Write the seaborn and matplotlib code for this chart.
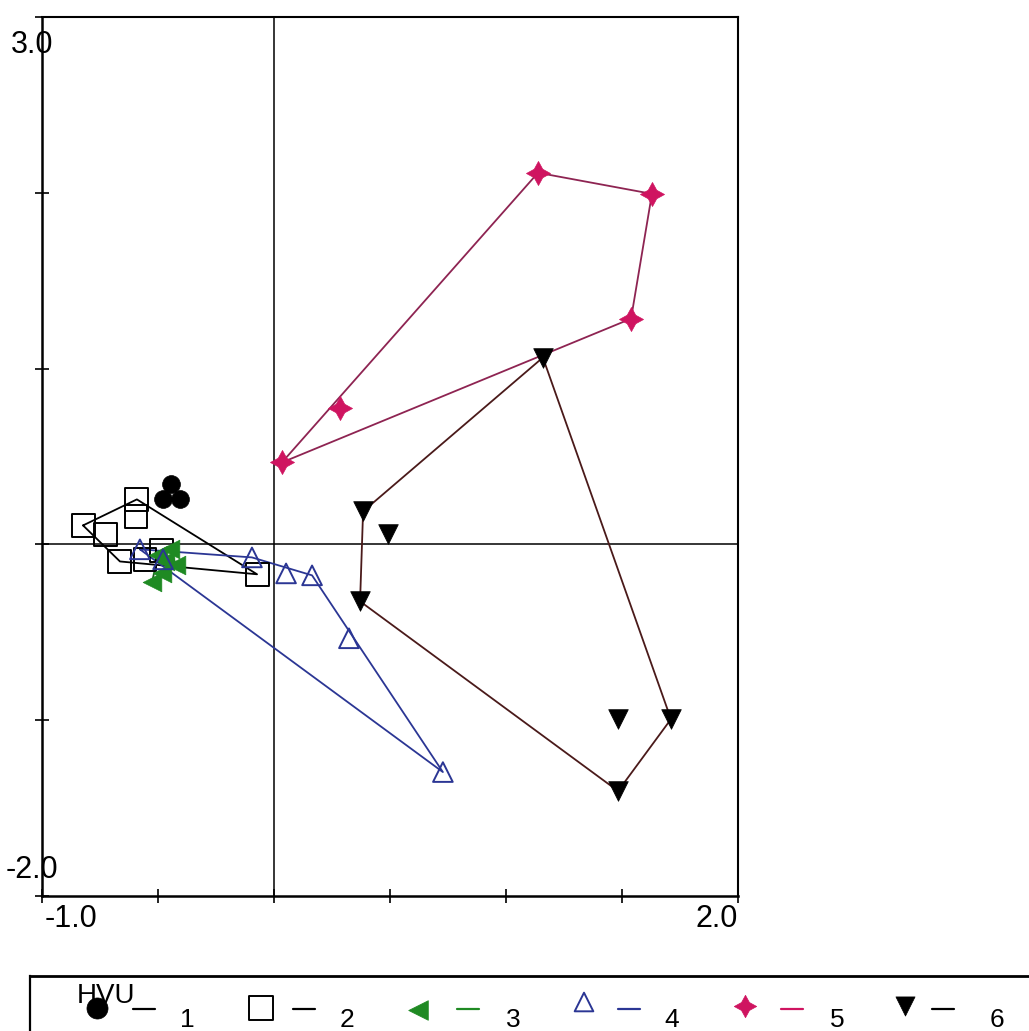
import numpy as np
import pandas as pd
import matplotlib
matplotlib.use("Agg")
import matplotlib.pyplot as plt
import seaborn as sns

# Sample scores on ordination axes 1 and 2, per HVU group
hvu1_x = [-0.444, -0.478, -0.405]
hvu1_y = [0.341, 0.261, 0.261]
hvu2_x = [-0.591, -0.823, -0.728, -0.595, -0.664, -0.073, -0.483, -0.556]
hvu2_y = [0.256, 0.108, 0.057, 0.159, -0.097, -0.170, -0.034, -0.085]
hvu3_x = [-0.526, -0.483, -0.422, -0.500, -0.448, -0.470]
hvu3_y = [-0.216, -0.165, -0.119, -0.063, -0.028, -0.097]
hvu4_x = [-0.578, -0.478, -0.095, 0.052, 0.164, 0.323, 0.728]
hvu4_y = [-0.028, -0.085, -0.074, -0.165, -0.176, -0.534, -1.295]
hvu5_x = [1.138, 1.629, 1.539, 0.284, 0.034]
hvu5_y = [2.114, 1.994, 1.284, 0.778, 0.466]
hvu6_x = [1.159, 0.384, 0.491, 0.371, 1.483, 1.711, 1.483]
hvu6_y = [1.063, 0.188, 0.057, -0.324, -0.994, -0.994, -1.403]

group_labels = ["1", "2", "3", "4", "5", "6"]
x_ticks = [-1.0, -0.5, 0.0, 0.5, 1.0, 1.5, 2.0]
y_ticks = [-2, -1, 0, 1, 2, 3]
x_end_labels = ["-1.0", "2.0"]
y_end_labels = ["-2.0", "3.0"]

frames = []
for lab, xs, ys in zip(group_labels,
                       [hvu1_x, hvu2_x, hvu3_x, hvu4_x, hvu5_x, hvu6_x],
                       [hvu1_y, hvu2_y, hvu3_y, hvu4_y, hvu5_y, hvu6_y]):
    frames.append(pd.DataFrame({"ax1": xs, "ax2": ys, "HVU": lab}))
scores = pd.concat(frames, ignore_index=True)

GREEN = "#1f8a23"
NAVY = "#2b3694"
PINK = "#cf1460"
PINK_LINE = "#8e2452"
BROWN = "#4a1a1a"

# marker style per group: marker, size (pt^2), face, edge, edge width, hull colour
styles = {
    "1": dict(marker="o", s=165, fc="black", ec="black", lw=0.5, line="black"),
    "2": dict(marker="s", s=272, fc="none", ec="black", lw=1.4, line="black"),
    "3": dict(marker="<", s=180, fc=GREEN, ec=GREEN, lw=0.5, line="#1d5e1d"),
    "4": dict(marker="^", s=200, fc="none", ec=NAVY, lw=1.4, line=NAVY),
    "5": dict(marker=(4, 1, 0), s=300, fc=PINK, ec=PINK, lw=0.5, line=PINK_LINE),
    "6": dict(marker="v", s=200, fc="black", ec="black", lw=0.5, line=BROWN),
}


def convex_hull(xs, ys):
    pts = sorted(set(zip(xs, ys)))
    if len(pts) < 3:
        return pts

    def cross(o, a, b):
        return (a[0] - o[0]) * (b[1] - o[1]) - (a[1] - o[1]) * (b[0] - o[0])

    lower, upper = [], []
    for p in pts:
        while len(lower) >= 2 and cross(lower[-2], lower[-1], p) <= 0:
            lower.pop()
        lower.append(p)
    for p in reversed(pts):
        while len(upper) >= 2 and cross(upper[-2], upper[-1], p) <= 0:
            upper.pop()
        upper.append(p)
    h = lower[:-1] + upper[:-1]
    return h + [h[0]]


sns.set_style("white")
plt.rcParams["font.family"] = ["Liberation Sans", "DejaVu Sans"]
plt.rcParams["text.color"] = "black"
plt.rcParams["xtick.color"] = "black"
plt.rcParams["ytick.color"] = "black"

W, H = 1029, 1031
fig = plt.figure(figsize=(W / 100, H / 100), dpi=100)
ax = fig.add_axes([42 / W, 1 - 896 / H, 696 / W, 879 / H])

ax.axhline(0, color="black", lw=1.1, zorder=1)
ax.axvline(0, color="black", lw=1.1, zorder=1)

for lab in group_labels:
    sub = scores[scores["HVU"] == lab]
    st = styles[lab]
    hull = convex_hull(sub["ax1"].tolist(), sub["ax2"].tolist())
    hx = [p[0] for p in hull]
    hy = [p[1] for p in hull]
    sns.lineplot(x=hx, y=hy, sort=False, estimator=None, color=st["line"],
                 linewidth=1.3, ax=ax, zorder=3, legend=False)
    sns.scatterplot(data=sub, x="ax1", y="ax2", ax=ax, marker=st["marker"],
                    s=st["s"], color=st["ec"], facecolor=st["fc"],
                    edgecolor=st["ec"], linewidth=st["lw"], zorder=4,
                    legend=False)

ax.set_xlim(-1.0, 2.0)
ax.set_ylim(-2.0, 3.0)
ax.set_xticks(x_ticks)
ax.set_yticks(y_ticks)
ax.tick_params(axis="both", direction="inout", length=10, width=1.2,
               colors="black", bottom=True, left=True, top=False, right=False,
               labelbottom=False, labelleft=False)
ax.set_xlabel("")
ax.set_ylabel("")
for side in ["left", "bottom"]:
    ax.spines[side].set_linewidth(1.8)
for side in ["top", "right"]:
    ax.spines[side].set_linewidth(1.5)
for sp in ax.spines.values():
    sp.set_color("black")

# axis end labels
fs = 22
ax.annotate(x_end_labels[0], xy=(x_ticks[0], y_ticks[0]), xycoords="data",
            xytext=(3, -8), textcoords="offset pixels", ha="left", va="top",
            fontsize=fs, color="black")
ax.annotate(x_end_labels[1], xy=(x_ticks[-1], y_ticks[0]), xycoords="data",
            xytext=(0, -8), textcoords="offset pixels", ha="right", va="top",
            fontsize=fs, color="black")
ax.annotate(y_end_labels[0], xy=(x_ticks[0], y_ticks[0]), xycoords="data",
            xytext=(-10, 26), textcoords="offset pixels", ha="center",
            va="center", fontsize=fs, color="black")
ax.annotate(y_end_labels[1], xy=(x_ticks[0], y_ticks[-1]), xycoords="data",
            xytext=(-10, -28), textcoords="offset pixels", ha="center",
            va="center", fontsize=fs, color="black")

# legend strip along the bottom, laid out in pixel units
lg = fig.add_axes([30 / W, 0, 1 - 30 / W, 55 / H])
lg.set_xlim(30, W)
lg.set_ylim(H, 976)
lg.set_xticks([])
lg.set_yticks([])
for side in ["right", "bottom"]:
    lg.spines[side].set_visible(False)
lg.spines["top"].set_linewidth(2.0)
lg.spines["left"].set_linewidth(1.6)
lg.spines["top"].set_color("black")
lg.spines["left"].set_color("black")

lg.text(77, 983, "HVU", ha="left", va="top", fontsize=20, color="black")
leg_marker_x = [97, 261, 418, 584, 745, 905]
leg_marker_y = [1008, 1008, 1010, 1002, 1006, 1006]
leg_sizes = [230, 320, 200, 180, 260, 190]
leg_dash_x = [133, 293, 457, 618, 781, 932]
leg_dash_c = ["black", "black", GREEN, NAVY, PINK, "black"]
leg_num_x = [187, 347, 513, 672, 837, 997]
for i, lab in enumerate(group_labels):
    st = styles[lab]
    sns.scatterplot(x=[leg_marker_x[i]], y=[leg_marker_y[i]], ax=lg,
                    marker=st["marker"], s=leg_sizes[i], color=st["ec"],
                    facecolor=st["fc"], edgecolor=st["ec"], linewidth=st["lw"],
                    legend=False, clip_on=False)
    lg.plot([leg_dash_x[i], leg_dash_x[i] + 22], [1009, 1009],
            color=leg_dash_c[i], lw=1.6)
    lg.text(leg_num_x[i], 1008, lab, ha="center", va="top", fontsize=19,
            color="black")
lg.set_xlabel("")
lg.set_ylabel("")

fig.savefig("out.png", dpi=100)
